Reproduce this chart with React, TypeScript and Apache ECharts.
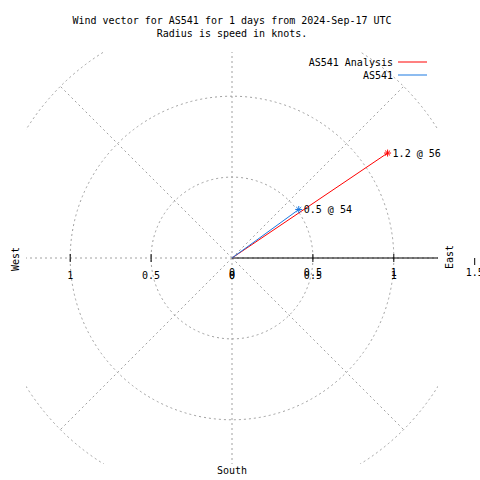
import React, { useEffect, useRef } from 'react';
import * as echarts from 'echarts';

const titleLines = ['Wind vector for AS541 for 1 days from 2024-Sep-17 UTC', 'Radius is speed in knots.'];
const seriesNames = ['AS541 Analysis', 'AS541'];
const speeds = [1.16, 0.51];
const directions = [56, 54];
const seriesColors = ['#ff0000', '#1a78e0'];
const ringRadii = [0.5, 1, 1.5];
const spokeAngles = [0, 45, 90, 135, 180, 225, 270, 315];
const spokeLength = 1.5;
const axisExtent = 1.2732;
const leftTickValues = [-1, -0.5];
const rightTickValues = [0.5, 1];
const outerTickValues = [1.5];
const leftLabelValues = [-1, -0.5, 0];
const rightLabelValues = [0, 0.5, 1, 1.5];
const rightLabelValuesShifted = [0, 0.5, 1];
const compassLabels = ['West', 'East', 'South'];

const FONT = '"DejaVu Sans Mono", "Liberation Mono", monospace';
const FONT_CSS = '10px "DejaVu Sans Mono", "Liberation Mono", monospace';
const GRID_COLOR = '#a0a0a0';
const STAR = 'path://M0,5L10,5M5,0L5,10M1.5,1.5L8.5,8.5M8.5,1.5L1.5,8.5';

function labelSeries(values: number[], dy: number, z: number) {
  return {
    type: 'custom',
    silent: true,
    z,
    data: values.map((v) => [v, 0]),
    renderItem: (_p: any, api: any) => {
      const v = api.value(0);
      const pt = api.coord([v, 0]);
      return {
        type: 'text',
        style: {
          text: String(Math.abs(v)),
          x: pt[0],
          y: pt[1] + dy,
          align: 'center',
          verticalAlign: 'middle',
          fill: '#000',
          font: FONT_CSS,
        },
      };
    },
  };
}

function tickSeries(values: number[], up: number, down: number, z: number) {
  return {
    type: 'custom',
    silent: true,
    z,
    data: values.map((v) => [v, 0]),
    renderItem: (_p: any, api: any) => {
      const pt = api.coord([api.value(0), 0]);
      return {
        type: 'line',
        shape: { x1: pt[0], y1: pt[1] - up, x2: pt[0], y2: pt[1] + down },
        style: { stroke: '#000', lineWidth: 1 },
      };
    },
  };
}

export default function App() {
  const ref = useRef<HTMLDivElement>(null);
  useEffect(() => {
    if (!ref.current) return;
    const chart = echarts.init(ref.current, null, { renderer: 'svg' });
    const vectorSeries = seriesNames.map((name, i) => {
      const rad = (directions[i] * Math.PI) / 180;
      const end = [speeds[i] * Math.sin(rad), speeds[i] * Math.cos(rad)];
      return {
        type: 'line',
        name,
        z: 5 + i,
        data: [[0, 0], end],
        color: seriesColors[i],
        lineStyle: { color: seriesColors[i], width: 1 },
        showSymbol: true,
        symbol: (_v: any, p: any) => (p.dataIndex === 1 ? STAR : 'none'),
        symbolSize: 7,
        itemStyle: { color: seriesColors[i], borderColor: seriesColors[i], borderWidth: 1 },
        label: {
          show: true,
          position: 'right',
          distance: 1,
          formatter: (p: any) => (p.dataIndex === 1 ? `${speeds[i].toFixed(1)} @ ${directions[i]}` : ''),
          fontFamily: FONT,
          fontSize: 10,
          color: '#000',
        },
        emphasis: { disabled: true },
      };
    });
    const option: any = {
      animation: false,
      grid: { left: 26, top: 52, width: 412, height: 412 },
      xAxis: {
        type: 'value',
        min: -axisExtent,
        max: axisExtent,
        show: false,
      },
      yAxis: {
        type: 'value',
        min: -axisExtent,
        max: axisExtent,
        show: false,
      },
      legend: {
        data: seriesNames,
        orient: 'vertical',
        align: 'right',
        right: 53,
        top: 55.5,
        padding: 0,
        itemGap: 0,
        itemWidth: 29,
        itemHeight: 1,
        icon: 'rect',
        itemStyle: { borderWidth: 0 },
        selectedMode: false,
        textStyle: { fontFamily: FONT, fontSize: 10, color: '#000', lineHeight: 13 },
      },
      graphic: [
        ...titleLines.map((t, i) => ({
          type: 'text',
          x: 232,
          y: 20 + i * 13,
          style: { text: t, align: 'center', verticalAlign: 'middle', font: FONT_CSS, fill: '#000' },
        })),
        {
          type: 'text',
          x: 15,
          y: 259,
          rotation: Math.PI / 2,
          style: { text: compassLabels[0], align: 'center', verticalAlign: 'middle', font: FONT_CSS, fill: '#000' },
        },
        {
          type: 'text',
          x: 449,
          y: 257,
          rotation: Math.PI / 2,
          style: { text: compassLabels[1], align: 'center', verticalAlign: 'middle', font: FONT_CSS, fill: '#000' },
        },
        {
          type: 'text',
          x: 232,
          y: 470,
          style: { text: compassLabels[2], align: 'center', verticalAlign: 'middle', font: FONT_CSS, fill: '#000' },
        },
      ],
      series: [
        {
          type: 'custom',
          silent: true,
          clip: true,
          z: 1,
          data: ringRadii.map((r) => [r, 0]),
          renderItem: (_p: any, api: any) => {
            const c = api.coord([0, 0]);
            const e = api.coord([api.value(0), 0]);
            return {
              type: 'circle',
              shape: { cx: c[0], cy: c[1], r: e[0] - c[0] },
              style: { fill: 'none', stroke: GRID_COLOR, lineWidth: 1, lineDash: [2, 3] },
            };
          },
        },
        {
          type: 'custom',
          silent: true,
          clip: true,
          z: 1,
          data: spokeAngles.map((a) => [a, spokeLength]),
          renderItem: (_p: any, api: any) => {
            const a = (api.value(0) * Math.PI) / 180;
            const len = api.value(1);
            const c = api.coord([0, 0]);
            const e = api.coord([len * Math.sin(a), len * Math.cos(a)]);
            return {
              type: 'line',
              shape: { x1: c[0], y1: c[1], x2: e[0], y2: e[1] },
              style: { stroke: GRID_COLOR, lineWidth: 1, lineDash: [2, 3] },
            };
          },
        },
        {
          type: 'line',
          silent: true,
          z: 2,
          data: [[0, 0], [axisExtent, 0]],
          symbol: 'none',
          lineStyle: { color: '#000', width: 1 },
        },
        tickSeries(leftTickValues, 4, 4, 3),
        tickSeries(rightTickValues, 4, 4, 3),
        tickSeries(outerTickValues, 0, 7, 3),
        labelSeries(leftLabelValues, 17, 3),
        labelSeries(rightLabelValues, 14, 3),
        labelSeries(rightLabelValuesShifted, 17, 3),
        ...vectorSeries,
      ],
    };
    chart.setOption(option);
    return () => chart.dispose();
  }, []);
  return <div ref={ref} style={{ position: 'fixed', left: 0, top: 0, width: 480, height: 480, background: '#fff' }} />;
}
